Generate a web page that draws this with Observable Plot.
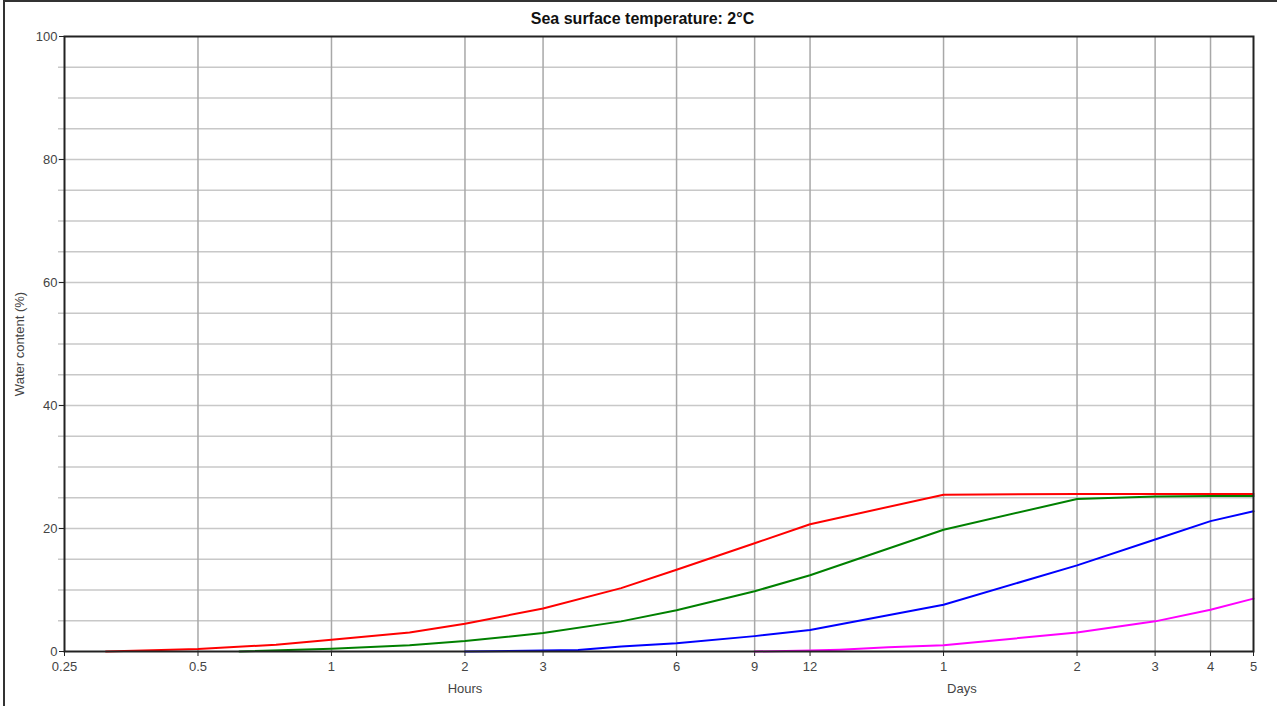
<!DOCTYPE html>
<html>
<head>
<meta charset="utf-8">
<script src="https://cdn.jsdelivr.net/npm/d3@7"></script>
<script src="https://cdn.jsdelivr.net/npm/@observablehq/plot@0.6"></script>
<style>
  html, body { margin: 0; padding: 0; background: #fff; }
  body { width: 1277px; height: 706px; overflow: hidden; position: relative; font-family: "Liberation Sans", Arial, sans-serif; }
  #border { position: absolute; left: 3px; top: 0px; width: 1290px; height: 720px; border-left: 2px solid #333; border-top: 2px solid #333; box-sizing: border-box; pointer-events: none; }
  #title { height: 30px; line-height: 38px; text-align: center; padding-left: 8px; font-weight: bold; font-size: 16px; color: #111; }
</style>
</head>
<body>
<div id="border"></div>
<div id="title">Sea surface temperature: 2°C</div>
<div id="chart"></div>
<script>
// ---- data (time in hours, water content in %) ----
const redHours   = [0.31, 0.5, 0.75, 1, 1.5, 2, 3, 4.5, 6, 9, 12, 24, 48, 72, 96, 120];
const redValues  = [0, 0.4, 1.1, 1.9, 3.1, 4.5, 7.0, 10.3, 13.3, 17.6, 20.7, 25.5, 25.6, 25.6, 25.6, 25.6];

const greenHours  = [0.62, 1, 1.5, 2, 3, 4.5, 6, 9, 12, 24, 48, 72, 96, 120];
const greenValues = [0, 0.45, 1.0, 1.7, 3.0, 4.9, 6.7, 9.8, 12.4, 19.8, 24.8, 25.2, 25.3, 25.3];

const blueHours  = [2, 3, 3.6, 4.5, 6, 9, 12, 24, 48, 72, 96, 120];
const blueValues = [0, 0.15, 0.25, 0.8, 1.35, 2.5, 3.5, 7.6, 14.0, 18.2, 21.2, 22.8];

const magentaHours  = [9, 12, 14, 18, 24, 48, 72, 96, 120];
const magentaValues = [0, 0.15, 0.3, 0.7, 1.0, 3.1, 4.9, 6.8, 8.6];

const seriesNames  = ["magenta", "blue", "green", "red"];
const seriesColors = ["#ff22cc", "#2222cc", "#228b22", "#ff1a1a"];

const xTickValues = [0.25, 0.5, 1, 2, 3, 6, 9, 12, 24, 48, 72, 96, 120];
const xTickLabels = ["0.25", "0.5", "1", "2", "3", "6", "9", "12", "1", "2", "3", "4", "5"];
const yTickValues = [0, 20, 40, 60, 80, 100];
const yGridValues = [5, 10, 15, 20, 25, 30, 35, 40, 45, 50, 55, 60, 65, 70, 75, 80, 85, 90, 95];
const unitLabels  = [{t: 2, label: "Hours"}, {t: 26.4, label: "Days"}];

// ---- build tables ----
const seriesData = {
  red: [redHours, redValues],
  green: [greenHours, greenValues],
  blue: [blueHours, blueValues],
  magenta: [magentaHours, magentaValues]
};
const rows = [];
for (const name of seriesNames) {
  const [hs, vs] = seriesData[name];
  hs.forEach((h, i) => rows.push({series: name, t: h, v: vs[i]}));
}
const xTicks = xTickValues.map((t, i) => ({t, label: xTickLabels[i]}));

const chart = Plot.plot({
  width: 1277,
  height: 676,
  marginLeft: 64,
  marginRight: 24,
  marginTop: 6,
  marginBottom: 55,
  style: {fontFamily: "'Liberation Sans', Arial, sans-serif", fontSize: "13px", color: "#444", background: "transparent"},
  x: {type: "log", domain: [0.25, 120], axis: null},
  y: {domain: [0, 100]},
  color: {domain: seriesNames, range: seriesColors},
  marks: [
    Plot.ruleY(yGridValues, {stroke: "#c8c8c8", strokeWidth: 1.5, insetLeft: -6}),
    Plot.ruleX(xTickValues.slice(1, -1), {stroke: "#a8a8a8", strokeWidth: 1.5}),
    // x axis: tick marks and labels through the log x scale
    Plot.ruleX(xTicks, {x: "t", y1: 0, y2: 0, insetBottom: -5, stroke: "#222", strokeWidth: 1}),
    Plot.text(xTicks, {x: "t", text: "label", frameAnchor: "bottom", dy: 19, fill: "#444", fontSize: 13}),
    Plot.axisY({ticks: yTickValues, tickSize: 5, tickPadding: 2, stroke: "#222", fill: "#444",
      label: "Water content (%)", labelAnchor: "center", labelArrow: "none", labelOffset: 50}),
    Plot.text(unitLabels, {x: "t", text: "label", frameAnchor: "bottom", dy: 41, fill: "#444", fontSize: 13}),
    Plot.line(rows, {x: "t", y: "v", z: "series", stroke: "series", strokeWidth: 2}),
    Plot.frame({stroke: "#222", strokeWidth: 2})
  ]
});
document.getElementById("chart").appendChild(chart);
</script>
</body>
</html>
